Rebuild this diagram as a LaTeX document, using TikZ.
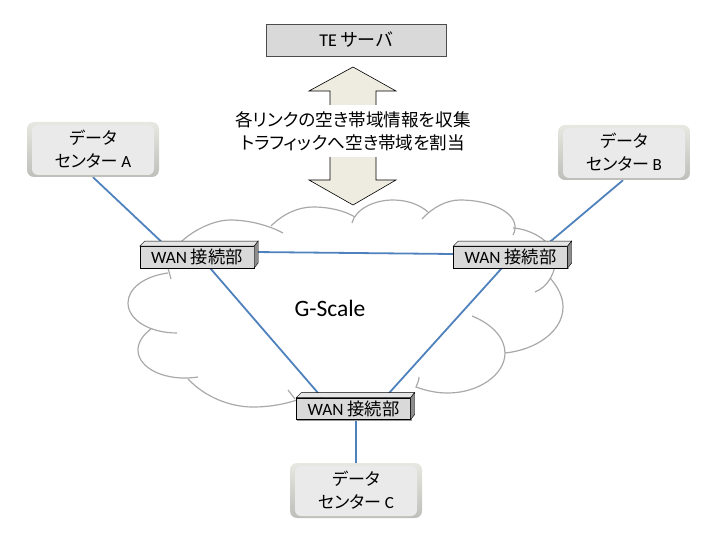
\documentclass[tikz,border=0pt]{standalone}
\usepackage{fontspec}
\setmainfont{Carlito}
\newfontfamily\jpfont[RawFeature=+palt]{Noto Sans CJK JP}
\newcommand{\jp}[1]{{\jpfont #1}}
\usepackage{tikz}
\usetikzlibrary{positioning,backgrounds}
\definecolor{dcedge}{HTML}{BEBEBA}
\definecolor{dctop}{HTML}{E8E8E2}
\definecolor{dcface}{HTML}{EAEAEA}
\definecolor{wanfront}{HTML}{D9D9D9}
\definecolor{wantop}{HTML}{E6E6E6}
\definecolor{wanright}{HTML}{8C8C8C}
\definecolor{linkblue}{HTML}{4F81BD}
\definecolor{cloudgray}{HTML}{A9A9A9}
\definecolor{arrowfill}{HTML}{EEECE1}
\tikzstyle{dcbox} = [rectangle, top color=dctop, bottom color=dcedge, rounded corners=7pt, align=center, inner sep=0pt,
minimum width=132pt, minimum height=55pt, font=\fontsize{17}{23}\selectfont,
path picture={\fill[dcface, rounded corners=6pt] ([xshift=5pt,yshift=2pt]path picture bounding box.south west) rectangle ([xshift=-5pt,yshift=-3pt]path picture bounding box.north east);}]
\tikzstyle{wanbox} = [rectangle, draw=black, fill=wanfront, inner sep=0pt, minimum width=114pt,
minimum height=21.5pt, font=\fontsize{17.3}{18}\selectfont]
\tikzstyle{server} = [rectangle, draw=black!70, fill=wanfront, inner sep=0pt, minimum width=180pt,
minimum height=32pt, font=\fontsize{18}{20}\selectfont]
\tikzstyle{link} = [draw=linkblue, line width=1.8pt]
\tikzstyle{cloudline} = [draw=cloudgray, line width=1.2pt]
\begin{document}
\begin{tikzpicture}[x=1pt, y=-1pt, node distance=100pt]
	\useasboundingbox (0,0) rectangle (720,540);
	\node [server] (te) at (356,40) {TE \jp{サーバ}};
	\node [wanbox] (wanA) at (197,257) {WAN \jp{接続部}};
	\node [wanbox, right of=wanA, node distance=313.5pt] (wanB) {WAN \jp{接続部}};
	\node [wanbox] (wanC) at (353.5,408.5) {WAN \jp{接続部}};
	\node [dcbox] (dcA) at (93,149.5) {\jp{データ}\\\jp{センター} A};
	\node [dcbox] (dcB) at (624,152.5) {\jp{データ}\\\jp{センター} B};
	\node [dcbox, below of=wanC, node distance=82pt, xshift=2.5pt] (dcC) {\jp{データ}\\\jp{センター} C};
	\node (gscale) at (330,308) {\fontsize{23.5}{25}\selectfont G-Scale};
	\draw [draw=black, fill=arrowfill, line width=0.6pt] (353,67) -- (396,91) -- (376,91) -- (376,180) -- (396,180) -- (353,205) -- (309,180) -- (330,180) -- (330,91) -- (309,91) -- cycle;
	\node [fill=white, align=center, inner sep=0pt, minimum width=240pt, minimum height=52pt, font=\fontsize{17.6}{23}\selectfont] (info) at (353,131) {\jp{各リンクの空き帯域情報を収集}\\\jp{トラフィックへ空き帯域を割当}};
	\foreach \n in {wanA,wanB,wanC} {
		\draw [draw=black, fill=wantop] (\n.north west) -- ++(5pt,5pt) -- ([shift={(4pt,5pt)}]\n.north east) -- (\n.north east) -- cycle;
		\draw [draw=black, fill=wanright] (\n.north east) -- ++(4pt,5pt) -- ([shift={(4pt,5pt)}]\n.south east) -- (\n.south east) -- cycle;
	}
	\begin{pgfonlayer}{background}
		\path [cloudline] (171,279) -- (168,268) .. controls (166,245) and (205,220) .. (230,220) .. controls (250,220) and (270,226) .. (283,233);
		\path [cloudline] (168,273) .. controls (145,276) and (128,288) .. (128,303) .. controls (128,320) and (150,333) .. (177,333);
		\path [cloudline] (151,329) .. controls (143,335) and (138,342) .. (138,350) .. controls (138,368) and (165,382) .. (198,377);
		\path [cloudline] (188,379) .. controls (205,397) and (230,407) .. (253,407) .. controls (270,407) and (285,404) .. (297,400);
		\path [cloudline] (288,390) -- (295,399);
		\path [cloudline] (271,226) .. controls (283,214) and (298,207) .. (313,207) .. controls (330,207) and (345,211) .. (355,217);
		\path [cloudline] (352,223) .. controls (355,210) and (373,200) .. (393,200) .. controls (408,200) and (420,205) .. (428,212);
		\path [cloudline] (422,219) .. controls (433,207) and (447,200) .. (460,200) .. controls (490,200) and (516,212) .. (515,228) .. controls (515,231) and (514,233) .. (513,235);
		\path [cloudline] (513,228) .. controls (530,229) and (550,240) .. (555,255) .. controls (557,272) and (548,287) .. (535,292);
		\path [cloudline] (550,278) .. controls (558,287) and (563,297) .. (563,307) .. controls (563,332) and (535,350) .. (505,353);
		\path [cloudline] (419,377) .. controls (419,381) and (417,384) .. (416,387) .. controls (427,391) and (437,393) .. (448,393) .. controls (478,393) and (505,375) .. (505,353) .. controls (505,338) and (492,324) .. (472,316);
		\path [link] (dcA.south) -- ([xshift=-31pt]wanA.north);
		\path [link] ([xshift=-1pt]dcB.south) -- ([xshift=34.5pt]wanB.north);
		\path [link] (dcC.north) -- (dcC.north |- wanC.south);
		\path [link] ([yshift=5pt]wanA.east) -- ([yshift=3pt]wanB.west);
		\path [link] ([xshift=13pt]wanA.south) -- ([xshift=-31.5pt]wanC.north);
		\path [link] ([xshift=-8.5pt]wanB.south) -- ([xshift=31.5pt]wanC.north);
		\foreach \n in {wanA,wanB,wanC} {
			\fill [black!40] ([shift={(1pt,-1.5pt)}]\n.south west) rectangle ([shift={(1pt,0pt)}]\n.south east);
		}
	\end{pgfonlayer}
\end{tikzpicture}
\end{document}
